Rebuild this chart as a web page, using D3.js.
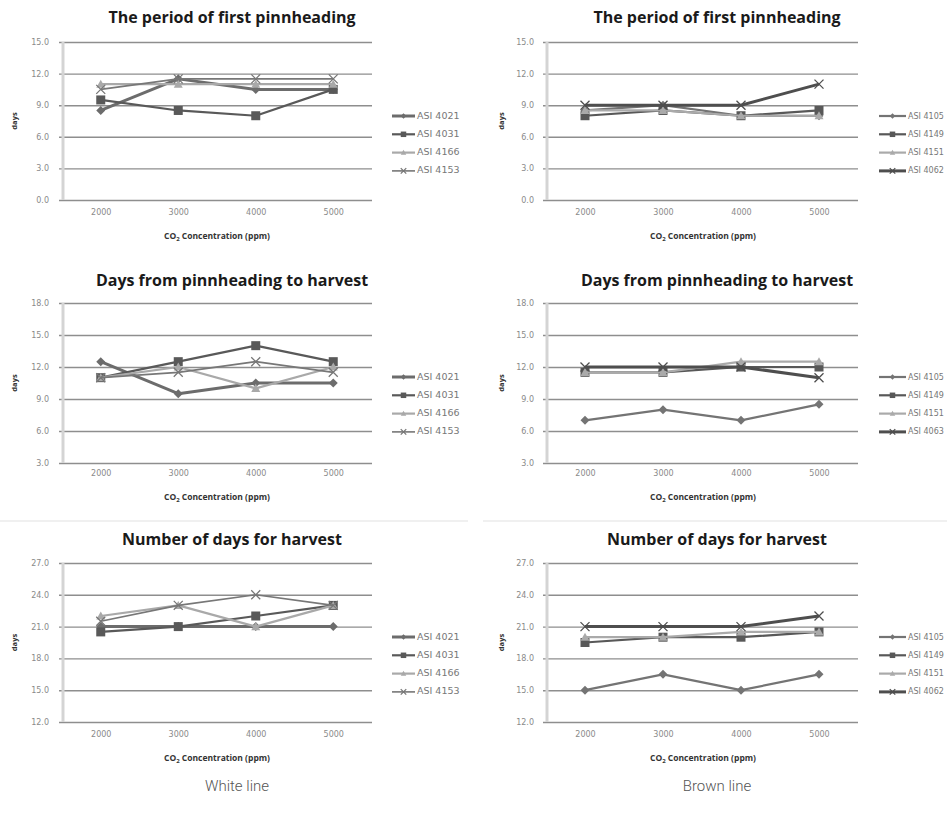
<!DOCTYPE html>
<html>
<head>
<meta charset="utf-8">
<script src="https://cdn.jsdelivr.net/npm/d3@7"></script>
<style>
  html, body { margin: 0; padding: 0; background: #fff; }
  svg { display: block; }
</style>
</head>
<body>
<svg id="chart" width="947" height="823"></svg>
<script>
// ---------- DATA ----------
const co2Levels = ["2000", "3000", "4000", "5000"];
const whiteStrains = ["ASI 4021", "ASI 4031", "ASI 4166", "ASI 4153"];
const brownStrains = ["ASI 4105", "ASI 4149", "ASI 4151", "ASI 4062"];
const brownStrainsRow2 = ["ASI 4105", "ASI 4149", "ASI 4151", "ASI 4063"];

const titlePinhead = "The period of first pinnheading";
const titlePinToHarvest = "Days from pinnheading to harvest";
const titleHarvest = "Number of days for harvest";

const yTicksPinhead = [0, 3, 6, 9, 12, 15];
const yTicksPinToHarvest = [3, 6, 9, 12, 15, 18];
const yTicksHarvest = [12, 15, 18, 21, 24, 27];

// White line strains
const whitePinhead = [
  [8.5, 11.5, 10.5, 10.5],
  [9.5, 8.5, 8.0, 10.5],
  [11.0, 11.0, 11.0, 11.0],
  [10.5, 11.5, 11.5, 11.5]
];
const whitePinToHarvest = [
  [12.5, 9.5, 10.5, 10.5],
  [11.0, 12.5, 14.0, 12.5],
  [11.0, 12.0, 10.0, 12.0],
  [11.0, 11.5, 12.5, 11.5]
];
const whiteHarvest = [
  [21.0, 21.0, 21.0, 21.0],
  [20.5, 21.0, 22.0, 23.0],
  [22.0, 23.0, 21.0, 23.0],
  [21.5, 23.0, 24.0, 23.0]
];

// Brown line strains
const brownPinhead = [
  [8.5, 9.0, 8.0, 8.0],
  [8.0, 8.5, 8.0, 8.5],
  [8.5, 8.5, 8.0, 8.0],
  [9.0, 9.0, 9.0, 11.0]
];
const brownPinToHarvest = [
  [7.0, 8.0, 7.0, 8.5],
  [11.5, 11.5, 12.0, 12.0],
  [11.5, 11.5, 12.5, 12.5],
  [12.0, 12.0, 12.0, 11.0]
];
const brownHarvest = [
  [15.0, 16.5, 15.0, 16.5],
  [19.5, 20.0, 20.0, 20.5],
  [20.0, 20.0, 20.5, 20.5],
  [21.0, 21.0, 21.0, 22.0]
];

const columnLabels = ["White line", "Brown line"];

// ---------- STYLES ----------
const whiteStyles = [
  { color: "#6c6c6c", width: 3,   marker: "diamond" },
  { color: "#595959", width: 2.2, marker: "square" },
  { color: "#a9a9a9", width: 2.2, marker: "triangle" },
  { color: "#777777", width: 1.6, marker: "x" }
];
const brownStyles = [
  { color: "#747474", width: 2.2, marker: "diamond" },
  { color: "#585858", width: 2.2, marker: "square" },
  { color: "#aaaaaa", width: 2.2, marker: "triangle" },
  { color: "#4e4e4e", width: 3,   marker: "x" }
];

const svg = d3.select("#chart");

const columns = [
  { x0: 62, x1: 372, titleX: 232, labelX: 217, tickLabelRight: 49, daysX: 15, legLine: [392, 415], legFont: 9.5 },
  { x0: 546, x1: 858, titleX: 717, labelX: 703, tickLabelRight: 534, daysX: 502, legLine: [879, 906], legFont: 8 }
];
const rows = [
  { y0: 42,  y1: 200, titleY: 19,  ticksY: 216, labelY: 237 },
  { y0: 303, y1: 463, titleY: 282, ticksY: 477, labelY: 498 },
  { y0: 563, y1: 722, titleY: 541, ticksY: 738, labelY: 759 }
];

const panels = [
  { col: 0, row: 0, title: titlePinhead,      ticks: yTicksPinhead,      data: whitePinhead,      names: whiteStrains,     styles: whiteStyles },
  { col: 1, row: 0, title: titlePinhead,      ticks: yTicksPinhead,      data: brownPinhead,      names: brownStrains,     styles: brownStyles },
  { col: 0, row: 1, title: titlePinToHarvest, ticks: yTicksPinToHarvest, data: whitePinToHarvest, names: whiteStrains,     styles: whiteStyles },
  { col: 1, row: 1, title: titlePinToHarvest, ticks: yTicksPinToHarvest, data: brownPinToHarvest, names: brownStrainsRow2, styles: brownStyles },
  { col: 0, row: 2, title: titleHarvest,      ticks: yTicksHarvest,      data: whiteHarvest,      names: whiteStrains,     styles: whiteStyles },
  { col: 1, row: 2, title: titleHarvest,      ticks: yTicksHarvest,      data: brownHarvest,      names: brownStrains,     styles: brownStyles }
];

function markerPath(type, size) {
  const s = size / 2;
  switch (type) {
    case "diamond": return `M0,${-s}L${s},0L0,${s}L${-s},0Z`;
    case "square": return `M${-s},${-s}H${s}V${s}H${-s}Z`;
    case "triangle": return `M0,${-s}L${s},${s * 0.8}L${-s},${s * 0.8}Z`;
    case "x": return `M${-s},${-s}L${s},${s}M${s},${-s}L${-s},${s}`;
  }
}

function drawMarker(g, type, color, size) {
  const p = g.append("path").attr("d", markerPath(type, size));
  if (type === "x") p.attr("fill", "none").attr("stroke", color).attr("stroke-width", 1.3);
  else p.attr("fill", color);
}

// faint separators between rows 2 and 3
svg.append("line").attr("x1", 0).attr("x2", 468).attr("y1", 521).attr("y2", 521)
  .attr("stroke", "#f0f0f0").attr("stroke-width", 2);
svg.append("line").attr("x1", 483).attr("x2", 947).attr("y1", 521).attr("y2", 521)
  .attr("stroke", "#f0f0f0").attr("stroke-width", 2);

panels.forEach(p => {
  const c = columns[p.col], r = rows[p.row];
  const g = svg.append("g");

  const x = d3.scalePoint().domain(co2Levels).range([c.x0, c.x1]).padding(0.5);
  const y = d3.scaleLinear().domain(d3.extent(p.ticks)).range([r.y1, r.y0]);

  // gridlines via axis
  const yAxis = d3.axisLeft(y).tickValues(p.ticks).tickFormat(d3.format(".1f"))
    .tickSize(-(c.x1 - c.x0) - 3).tickPadding(10);
  const ag = g.append("g").attr("transform", `translate(${c.x0 - 3},0)`).call(yAxis);
  ag.select(".domain").remove();
  ag.selectAll(".tick line").attr("stroke", "#8e8e8e").attr("stroke-width", 1.4);
  ag.selectAll(".tick text").attr("fill", "#8a8a8a").attr("font-size", 8)
    .attr("font-family", "DejaVu Sans, sans-serif")
    .attr("x", c.tickLabelRight - (c.x0 - 3));

  // vertical axis line
  g.append("line").attr("x1", c.x0 + 1).attr("x2", c.x0 + 1).attr("y1", r.y0).attr("y2", r.y1)
    .attr("stroke", "#d4d4d4").attr("stroke-width", 3);

  // x tick labels
  const xAxis = d3.axisBottom(x).tickSize(0).tickPadding(0);
  const xg = g.append("g").attr("transform", `translate(0,${r.ticksY - 3})`).call(xAxis);
  xg.select(".domain").remove();
  xg.selectAll(".tick text").attr("fill", "#8a8a8a").attr("font-size", 8)
    .attr("font-family", "DejaVu Sans, sans-serif").attr("dy", "0.3em").attr("y", 0);

  // title
  g.append("text").attr("x", c.titleX).attr("y", r.titleY).attr("text-anchor", "middle")
    .attr("dominant-baseline", "middle")
    .attr("font-family", "Open Sans, sans-serif").attr("font-weight", "bold")
    .attr("font-size", 16).attr("fill", "#1a1a1a").text(p.title);

  // x axis label with subscript
  const t = g.append("text").attr("x", c.labelX).attr("y", r.labelY).attr("text-anchor", "middle")
    .attr("dominant-baseline", "middle")
    .attr("font-family", "Open Sans, sans-serif").attr("font-weight", "bold")
    .attr("font-size", 8.5).attr("fill", "#333");
  t.append("tspan").text("CO");
  t.append("tspan").attr("font-size", 6).attr("dy", 2).text("2");
  t.append("tspan").attr("dy", -2).text("  Concentration  (ppm)");

  // y label
  g.append("text").attr("transform", `translate(${c.daysX},${(r.y0 + r.y1) / 2}) rotate(-90)`)
    .attr("text-anchor", "middle").attr("dominant-baseline", "middle")
    .attr("font-family", "Open Sans, sans-serif").attr("font-weight", "bold")
    .attr("font-size", 7.5).attr("fill", "#333").text("days");

  // series
  const line = d3.line().x((d, i) => x(co2Levels[i])).y(d => y(d));
  p.data.forEach((vals, si) => {
    const st = p.styles[si];
    g.append("path").datum(vals).attr("d", line).attr("fill", "none")
      .attr("stroke", st.color).attr("stroke-width", st.width).attr("stroke-linejoin", "round");
    vals.forEach((v, i) => {
      const mg = g.append("g").attr("transform", `translate(${x(co2Levels[i])},${y(v)})`);
      drawMarker(mg, st.marker, st.color, 9);
    });
  });

  // legend
  p.names.forEach((name, si) => {
    const st = p.styles[si];
    const ly = r.y0 + 74 + si * 18.3;
    g.append("line").attr("x1", c.legLine[0]).attr("x2", c.legLine[1]).attr("y1", ly).attr("y2", ly)
      .attr("stroke", st.color).attr("stroke-width", st.width);
    const mg = g.append("g").attr("transform", `translate(${(c.legLine[0] + c.legLine[1]) / 2},${ly})`);
    drawMarker(mg, st.marker, st.color, 5.5);
    g.append("text").attr("x", c.legLine[1] + 2).attr("y", ly).attr("dominant-baseline", "middle")
      .attr("font-family", "DejaVu Sans, sans-serif").attr("font-size", c.legFont).attr("fill", "#777")
      .text(name);
  });
});

// column labels
[237, 717].forEach((cx, i) => {
  svg.append("text").attr("x", cx).attr("y", 787).attr("text-anchor", "middle")
    .attr("dominant-baseline", "middle")
    .attr("font-family", "Roboto, Liberation Sans, sans-serif").attr("font-weight", 300)
    .attr("font-size", 15).attr("fill", "#555").text(columnLabels[i]);
});
</script>
</body>
</html>
